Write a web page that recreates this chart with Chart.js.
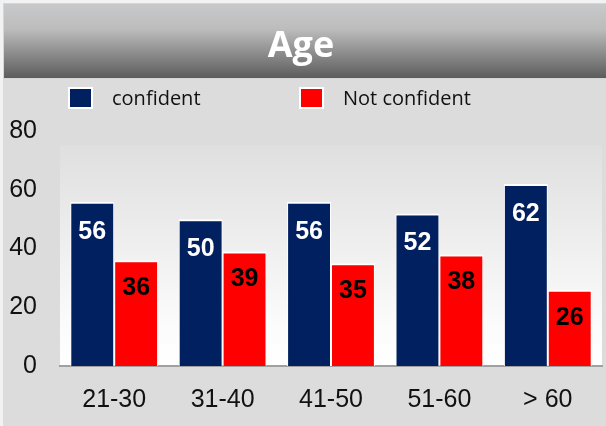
<!DOCTYPE html>
<html>
<head>
<meta charset="utf-8">
<script src="https://cdn.jsdelivr.net/npm/chart.js@4"></script>
<style>
  html, body { margin: 0; padding: 0; background: #f2f2f2; }
  canvas { display: block; }
</style>
</head>
<body>
<canvas id="ageChart" width="606" height="426"></canvas>
<script>
// age groups and answer shares
const categories = ['21-30', '31-40', '41-50', '51-60', '> 60'];
const confident = [56, 50, 56, 52, 62];
const notConfident = [36, 39, 35, 38, 26];
const yTicks = [0, 20, 40, 60, 80];
const seriesNames = ['confident', 'Not confident'];

const NAVY = '#002060';
const RED = '#ff0000';

// grey panel, gradient header bar and plot background
const backdrop = {
    id: 'backdrop',
    beforeDraw: (chart) => {
        const { ctx, chartArea: { left, right, top, bottom } } = chart;
        ctx.save();
        ctx.fillStyle = '#dcdcdc';
        ctx.fillRect(3, 3, chart.width - 3, chart.height - 3);

        const hg = ctx.createLinearGradient(0, 3, 0, 78);
        hg.addColorStop(0, '#c8c9cb');
        hg.addColorStop(0.35, '#bcbcbd');
        hg.addColorStop(1, '#5c5c5c');
        ctx.fillStyle = hg;
        ctx.fillRect(3, 3, chart.width - 3, 75);
        ctx.strokeStyle = '#d6d6d6';
        ctx.lineWidth = 1;
        ctx.strokeRect(3.5, 3.5, chart.width - 3, 75);

        const pg = ctx.createLinearGradient(0, top + 14, 0, bottom);
        pg.addColorStop(0, '#dfdfdf');
        pg.addColorStop(0.8, '#fbfbfb');
        pg.addColorStop(1, '#ffffff');
        ctx.fillStyle = pg;
        ctx.fillRect(left, top + 14, right - left, bottom - top - 14);
        ctx.restore();
    }
};

// legend squares with white rim, laid out like the original sheet
const boxLegend = {
    id: 'boxLegend',
    afterDraw: (chart) => {
        const { ctx } = chart;
        const slots = [68, 299];
        ctx.save();
        chart.data.datasets.forEach((ds, i) => {
            const x = slots[i];
            ctx.fillStyle = '#ffffff';
            ctx.fillRect(x, 87, 25, 22);
            ctx.fillStyle = ds.backgroundColor;
            ctx.fillRect(x + 2, 89, 21, 18);
            ctx.fillStyle = '#111111';
            ctx.font = '20px "Open Sans"';
            ctx.textBaseline = 'middle';
            ctx.textAlign = 'left';
            ctx.fillText(ds.label, x + 44, 99);
        });
        ctx.restore();
    }
};

// value printed inside the top of every bar
const barValues = {
    id: 'barValues',
    afterDatasetsDraw: (chart) => {
        const { ctx } = chart;
        ctx.save();
        ctx.font = 'bold 25px "Liberation Sans", Arial';
        ctx.textAlign = 'center';
        ctx.textBaseline = 'middle';
        chart.data.datasets.forEach((ds, i) => {
            const meta = chart.getDatasetMeta(i);
            meta.data.forEach((bar, j) => {
                ctx.fillStyle = i === 0 ? '#ffffff' : '#000000';
                ctx.fillText(String(ds.data[j]), bar.x, bar.y + (i === 0 ? 30 : 28));
            });
        });
        ctx.restore();
    }
};

new Chart(document.getElementById('ageChart'), {
    type: 'bar',
    data: {
        labels: categories,
        datasets: [
            {
                label: seriesNames[0],
                data: confident,
                backgroundColor: NAVY,
                borderColor: '#ffffff',
                borderWidth: { top: 2, left: 1, right: 1, bottom: 0 },
            },
            {
                label: seriesNames[1],
                data: notConfident,
                backgroundColor: RED,
                borderColor: '#ffffff',
                borderWidth: { top: 2, left: 1, right: 1, bottom: 0 },
            },
        ],
    },
    options: {
        responsive: false,
        animation: false,
        categoryPercentage: 0.81,
        barPercentage: 1,
        layout: { padding: { left: 0, right: 4, top: 0, bottom: 13 } },
        scales: {
            x: {
                afterFit: (scale) => { scale.height = 47; },
                grid: { display: false, drawTicks: false },
                border: { display: true, color: '#a0a0a0', width: 2 },
                ticks: {
                    color: '#111111',
                    font: { family: '"Liberation Sans", Arial', size: 25 },
                    padding: 19,
                },
            },
            y: {
                min: 0,
                max: 80,
                afterFit: (scale) => { scale.width = 60; },
                afterBuildTicks: (scale) => { scale.ticks = yTicks.map(v => ({ value: v })); },
                grid: { display: false, drawTicks: false },
                border: { display: false },
                ticks: {
                    color: '#111111',
                    font: { family: '"Liberation Sans", Arial', size: 25 },
                    padding: 23,
                },
            },
        },
        plugins: {
            legend: { display: false },
            tooltip: { enabled: false },
            title: {
                display: true,
                text: 'Age',
                color: '#ffffff',
                font: { family: '"Open Sans"', size: 36, weight: 'bold', lineHeight: 1.2 },
                padding: { top: 25, bottom: 63 },
            },
        },
    },
    plugins: [backdrop, boxLegend, barValues],
});
</script>
</body>
</html>
